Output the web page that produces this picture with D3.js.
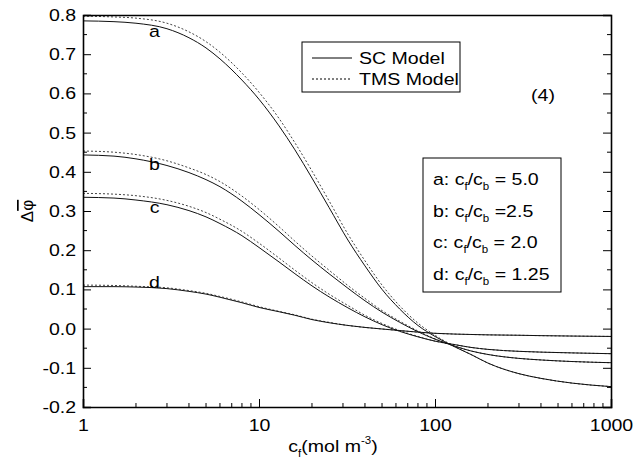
<!DOCTYPE html>
<html>
<head>
<meta charset="utf-8">
<script src="https://cdn.jsdelivr.net/npm/d3@7"></script>
<style>
  body { margin: 0; background: #fff; }
  text, tspan { font-family: "Liberation Sans", Arial, sans-serif; fill: #000; }
</style>
</head>
<body>
<svg id="chart" width="642" height="464"></svg>
<script>
// concentration c_f (mol m^-3)
var conc = [1, 1.5, 2, 3, 4, 5, 6, 8, 10, 13, 16, 20, 25, 32, 40, 50, 63, 80, 100, 130, 160, 200, 300, 400, 600, 1000];

// SC model
var scA = [0.785, 0.783, 0.779, 0.765, 0.742, 0.716, 0.688, 0.634, 0.585, 0.517, 0.456, 0.384, 0.309, 0.226, 0.160, 0.100, 0.050, 0.008, -0.020, -0.047, -0.066, -0.088, -0.115, -0.127, -0.139, -0.148];
var scB = [0.443, 0.440, 0.433, 0.416, 0.398, 0.380, 0.362, 0.325, 0.291, 0.248, 0.212, 0.175, 0.140, 0.103, 0.071, 0.042, 0.016, -0.008, -0.027, -0.045, -0.057, -0.066, -0.076, -0.080, -0.084, -0.087];
var scC = [0.335, 0.333, 0.328, 0.316, 0.301, 0.285, 0.268, 0.237, 0.207, 0.170, 0.140, 0.109, 0.081, 0.053, 0.030, 0.010, -0.007, -0.021, -0.032, -0.041, -0.048, -0.053, -0.058, -0.060, -0.062, -0.064];
var scD = [0.107, 0.107, 0.106, 0.102, 0.095, 0.088, 0.080, 0.066, 0.054, 0.043, 0.034, 0.023, 0.015, 0.008, 0.003, -0.001, -0.005, -0.009, -0.012, -0.014, -0.015, -0.016, -0.017, -0.018, -0.019, -0.020];

// TMS model
var tmsA = [0.797, 0.795, 0.792, 0.779, 0.757, 0.732, 0.705, 0.652, 0.603, 0.536, 0.474, 0.402, 0.326, 0.241, 0.173, 0.111, 0.058, 0.014, -0.017, -0.046, -0.066, -0.088, -0.115, -0.127, -0.139, -0.148];
var tmsB = [0.453, 0.450, 0.444, 0.428, 0.410, 0.393, 0.375, 0.338, 0.304, 0.260, 0.223, 0.185, 0.149, 0.110, 0.077, 0.046, 0.019, -0.006, -0.026, -0.045, -0.057, -0.066, -0.076, -0.080, -0.084, -0.087];
var tmsC = [0.345, 0.343, 0.339, 0.327, 0.312, 0.296, 0.279, 0.248, 0.218, 0.180, 0.149, 0.117, 0.088, 0.059, 0.034, 0.013, -0.005, -0.020, -0.032, -0.041, -0.048, -0.053, -0.058, -0.060, -0.062, -0.064];
var tmsD = [0.111, 0.110, 0.108, 0.104, 0.097, 0.090, 0.082, 0.068, 0.056, 0.044, 0.035, 0.024, 0.016, 0.008, 0.003, -0.001, -0.005, -0.009, -0.012, -0.014, -0.015, -0.016, -0.017, -0.018, -0.019, -0.020];

var curveNames = ["a", "b", "c", "d"];
var labelVals = [0.759, 0.419, 0.311, 0.120];
var labelConc = 2.55;
var ratioText = ["= 5.0", "=2.5", "= 2.0", "= 1.25"];
var xTicks = [1, 10, 100, 1000];
var yTicks = [-0.2, -0.1, 0.0, 0.1, 0.2, 0.3, 0.4, 0.5, 0.6, 0.7, 0.8];

var stretch = "scale(1.15,1)";

var margin = {top: 15, right: 31, bottom: 57, left: 83},
    width = 642 - margin.left - margin.right,
    height = 464 - margin.top - margin.bottom;

var svg = d3.select("#chart")
    .append("g")
    .attr("transform", "translate(" + margin.left + "," + margin.top + ")");

var x = d3.scaleLog().domain([1, 1000]).range([0, width]);
var y = d3.scaleLinear().domain([-0.2, 0.8]).range([height, 0]);

var line = d3.line()
    .x(function(d) { return x(d[0]); })
    .y(function(d) { return y(d[1]); })
    .curve(d3.curveMonotoneX);

var sc = [scA, scB, scC, scD];
var tms = [tmsA, tmsB, tmsC, tmsD];

svg.append("defs").append("clipPath").attr("id", "clip")
    .append("rect").attr("width", width).attr("height", height);

var plot = svg.append("g").attr("clip-path", "url(#clip)");

plot.selectAll(".tms")
    .data(tms)
    .enter().append("path")
    .attr("class", "tms")
    .attr("d", function(s) { return line(conc.map(function(c, i) { return [c, s[i]]; })); })
    .style("fill", "none")
    .style("stroke", "#444")
    .style("stroke-width", "1px")
    .style("stroke-dasharray", "2,2");

plot.selectAll(".sc")
    .data(sc)
    .enter().append("path")
    .attr("class", "sc")
    .attr("d", function(s) { return line(conc.map(function(c, i) { return [c, s[i]]; })); })
    .style("fill", "none")
    .style("stroke", "#111")
    .style("stroke-width", "1px");

// places a horizontally stretched text group
function label(parent, px, py, anchor) {
    return parent.append("g")
        .attr("transform", "translate(" + px + "," + py + ") " + stretch)
        .append("text")
        .attr("text-anchor", anchor || "start")
        .style("font-size", "17px");
}

// curve letters
curveNames.forEach(function(n, i) {
    label(svg, x(labelConc), y(labelVals[i]), "middle").attr("dy", ".35em").text(n);
});

// axes with inward ticks
var xAxis = d3.axisBottom(x).tickValues(xTicks).tickFormat(d3.format("d")).tickSize(-8).tickPadding(12);
var gx = svg.append("g").attr("transform", "translate(0," + height + ")").call(xAxis);
var minorX = [];
[1, 10, 100].forEach(function(dec) { for (var k = 2; k < 10; k++) minorX.push(dec * k); });
gx.selectAll(".minor").data(minorX).enter().append("line")
    .attr("x1", function(d) { return x(d); }).attr("x2", function(d) { return x(d); })
    .attr("y1", 0).attr("y2", -4).style("stroke", "#000");

var yAxis = d3.axisLeft(y).tickValues(yTicks)
    .tickFormat(function(d) { return d.toFixed(1); })
    .tickSize(-8).tickPadding(6);
var gy = svg.append("g").call(yAxis);
var minorY = d3.range(-0.15, 0.8, 0.1);
gy.selectAll(".minor").data(minorY).enter().append("line")
    .attr("x1", 0).attr("x2", 4)
    .attr("y1", function(d) { return y(d); }).attr("y2", function(d) { return y(d); })
    .style("stroke", "#000");

var gr = svg.append("g").attr("transform", "translate(" + width + ",0)")
    .call(d3.axisRight(y).tickValues(yTicks).tickFormat("").tickSize(-8));
gr.selectAll(".minor").data(minorY).enter().append("line")
    .attr("x1", 0).attr("x2", -4)
    .attr("y1", function(d) { return y(d); }).attr("y2", function(d) { return y(d); })
    .style("stroke", "#000");

var gt = svg.append("g").call(d3.axisTop(x).tickValues([]).tickSizeOuter(0));

[gx, gy, gr, gt].forEach(function(g) {
    g.select(".domain").style("stroke", "#000").style("stroke-width", "1.6px");
    g.selectAll(".tick line").style("stroke", "#000").style("stroke-width", "1px");
    g.selectAll("text").style("font-size", "17px").style("fill", "#000")
        .style("font-family", "'Liberation Sans', Arial, sans-serif")
        .attr("transform", stretch);
});

// axis titles
var xt = label(svg, 250, height + 45, "middle");
xt.append("tspan").text("c");
xt.append("tspan").attr("dy", 5).style("font-size", "10px").text("f");
xt.append("tspan").attr("dy", -5).text("(mol m");
xt.append("tspan").attr("dy", -8).style("font-size", "10px").text("-3");
xt.append("tspan").attr("dy", 8).text(")");

var yt = svg.append("text")
    .attr("transform", "translate(-50," + y(0.3) + ") rotate(-90)")
    .attr("text-anchor", "middle")
    .style("font-size", "17px");
yt.append("tspan").text("Δ");
yt.append("tspan").style("text-decoration", "overline").text("φ");

// legend
var legend = svg.append("g").attr("transform", "translate(219,27)");
legend.append("rect").attr("width", 158).attr("height", 50)
    .style("fill", "#fff").style("stroke", "#000").style("stroke-width", "1px");
var legendItems = [{name: "SC Model", dash: null}, {name: "TMS Model", dash: "2,2"}];
legendItems.forEach(function(d, i) {
    var ly = 16 + i * 21;
    legend.append("line").attr("x1", 10).attr("x2", 50).attr("y1", ly).attr("y2", ly)
        .style("stroke", "#000").style("stroke-width", "1px")
        .style("stroke-dasharray", d.dash);
    label(legend, 57, ly).attr("dy", ".35em").text(d.name);
});

// case number
label(svg, 460, 86, "middle").text("(4)");

// ratio box
var box = svg.append("g").attr("transform", "translate(340,143)");
box.append("rect").attr("width", 138).attr("height", 134)
    .style("fill", "#fff").style("stroke", "#000").style("stroke-width", "1px");
curveNames.forEach(function(d, i) {
    var r = label(box, 10, 27 + i * 31.5);
    r.append("tspan").text(d + ": c");
    r.append("tspan").attr("dy", 5).style("font-size", "10px").style("fill", "#000").text("f");
    r.append("tspan").attr("dy", -5).text("/c");
    r.append("tspan").attr("dy", 5).style("font-size", "10px").style("fill", "#000").text("b");
    r.append("tspan").attr("dy", -5).text(" " + ratioText[i]);
});
</script>
</body>
</html>
